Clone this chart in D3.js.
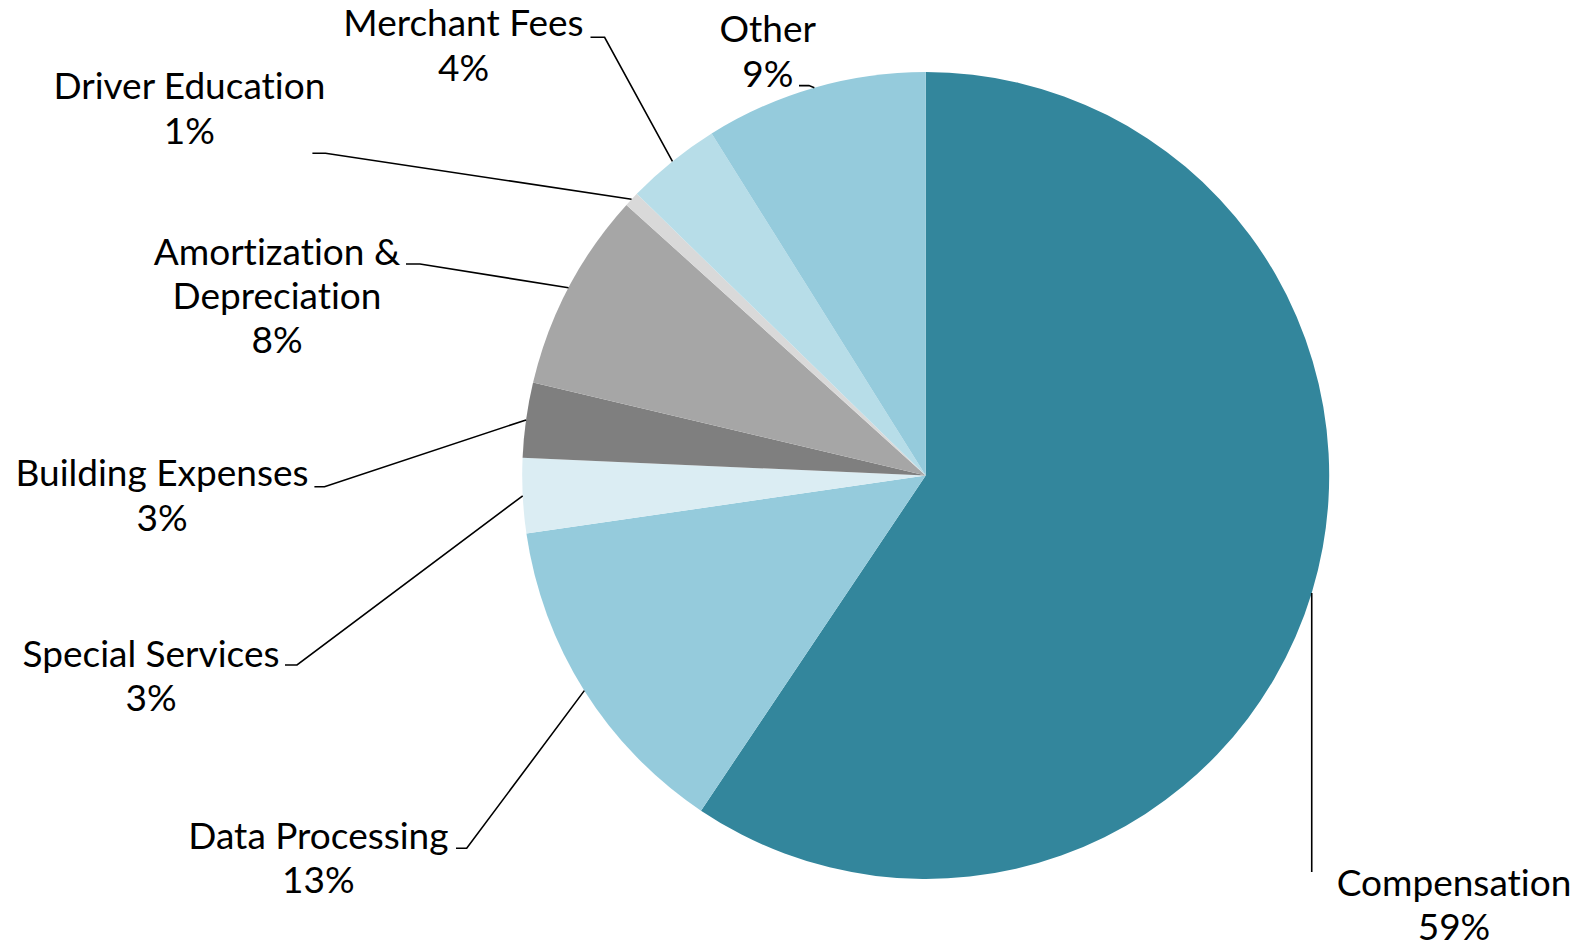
<!DOCTYPE html>
<html>
<head>
<meta charset="utf-8">
<script src="https://cdn.jsdelivr.net/npm/d3@7"></script>
<style>
  html, body { margin: 0; padding: 0; background: #ffffff; }
  svg { display: block; }
  text { font-family: Lato, "Open Sans", sans-serif; fill: #000000; font-variant-ligatures: none; font-feature-settings: "liga" 0; }
</style>
</head>
<body>
<svg id="chart" width="1580" height="946"></svg>
<script>
// Expense categories, clockwise from 12 o'clock
const categories = [
  "Compensation", "Data Processing", "Special Services", "Building Expenses",
  "Amortization & Depreciation", "Driver Education", "Merchant Fees", "Other"
];
// Share of total expenses, percent
const shares = [59.4, 13.3, 3.0, 3.0, 8.0, 0.6, 3.8, 8.9];
// Label text lines for each category
const labelLines = [
  ["Compensation"], ["Data Processing"], ["Special Services"], ["Building Expenses"],
  ["Amortization &", "Depreciation"], ["Driver Education"], ["Merchant Fees"], ["Other"]
];
const sliceColors = [
  "#33869c", "#95cbdc", "#dbedf3", "#7f7f7f",
  "#a6a6a6", "#d9d9d9", "#b7dde8", "#95cbdc"
];

// Label placement: text block centre x, first-line centre y,
// and leader elbow (stub start x, stub end x, stub y); Compensation uses a vertical leader.
const labelLayout = [
  { cx: 1454, cy: 880.5, leader: { x0: null, x1: null, y: 872 } },
  { cx: 318.4, cy: 834,   leader: { x0: 456, x1: 466.7, y: 848.3 } },
  { cx: 151,   cy: 651.8, leader: { x0: 285, x1: 297,   y: 665 } },
  { cx: 162,   cy: 471.4, leader: { x0: 314.4, x1: 324.5, y: 486.7 } },
  { cx: 277,   cy: 249.8, leader: { x0: 406, x1: 420,   y: 264 } },
  { cx: 189.4, cy: 84.4,  leader: { x0: 312.4, x1: 325.5, y: 153.2 } },
  { cx: 463.5, cy: 21.2,  leader: { x0: 590.5, x1: 604.6, y: 37.3 } },
  { cx: 767.8, cy: 27.2,  leader: { x0: 799, x1: 809,   y: 85.6 } }
];

const cx = 925.7, cy = 475.5, radius = 403.5;
const fontSize = 37, lineStep = 44.3;

const svg = d3.select("#chart");
const g = svg.append("g").attr("transform", `translate(${cx},${cy})`);

const pie = d3.pie().sort(null).value(d => d.value).startAngle(0).endAngle(2 * Math.PI);
const data = categories.map((c, i) => ({ name: c, value: shares[i], i }));
const arcs = pie(data);

const arc = d3.arc().innerRadius(0).outerRadius(radius);
const rim = d3.arc().innerRadius(radius).outerRadius(radius);

g.selectAll("path.slice")
  .data(arcs)
  .join("path")
  .attr("class", "slice")
  .attr("d", arc)
  .attr("fill", d => sliceColors[d.data.i]);

const fmt = v => `${Math.round(v)}%`;

// Leader lines from the rim midpoint of each slice to its label
const leaders = svg.append("g")
  .attr("fill", "none")
  .attr("stroke", "#000000")
  .attr("stroke-width", 1.6);

arcs.forEach(a => {
  const i = a.data.i;
  const [mx, my] = rim.centroid(a);
  const p = [cx + mx, cy + my];
  const L = labelLayout[i].leader;
  let pts;
  if (L.x0 === null) {
    pts = [p, [p[0], L.y]];
  } else {
    pts = [[L.x0, L.y], [L.x1, L.y], p];
  }
  leaders.append("path").attr("d", d3.line()(pts));
});

// Category name and percentage labels
const labels = svg.append("g")
  .attr("font-size", fontSize)
  .attr("text-anchor", "middle");

arcs.forEach(a => {
  const i = a.data.i;
  const lay = labelLayout[i];
  const lines = labelLines[i].concat([fmt(a.data.value)]);
  const t = labels.append("text")
    .attr("x", lay.cx)
    .attr("y", lay.cy)
    .attr("dominant-baseline", "central");
  lines.forEach((ln, k) => {
    t.append("tspan")
      .attr("x", lay.cx)
      .attr("y", lay.cy + k * lineStep)
      .text(ln);
  });
});
</script>
</body>
</html>
